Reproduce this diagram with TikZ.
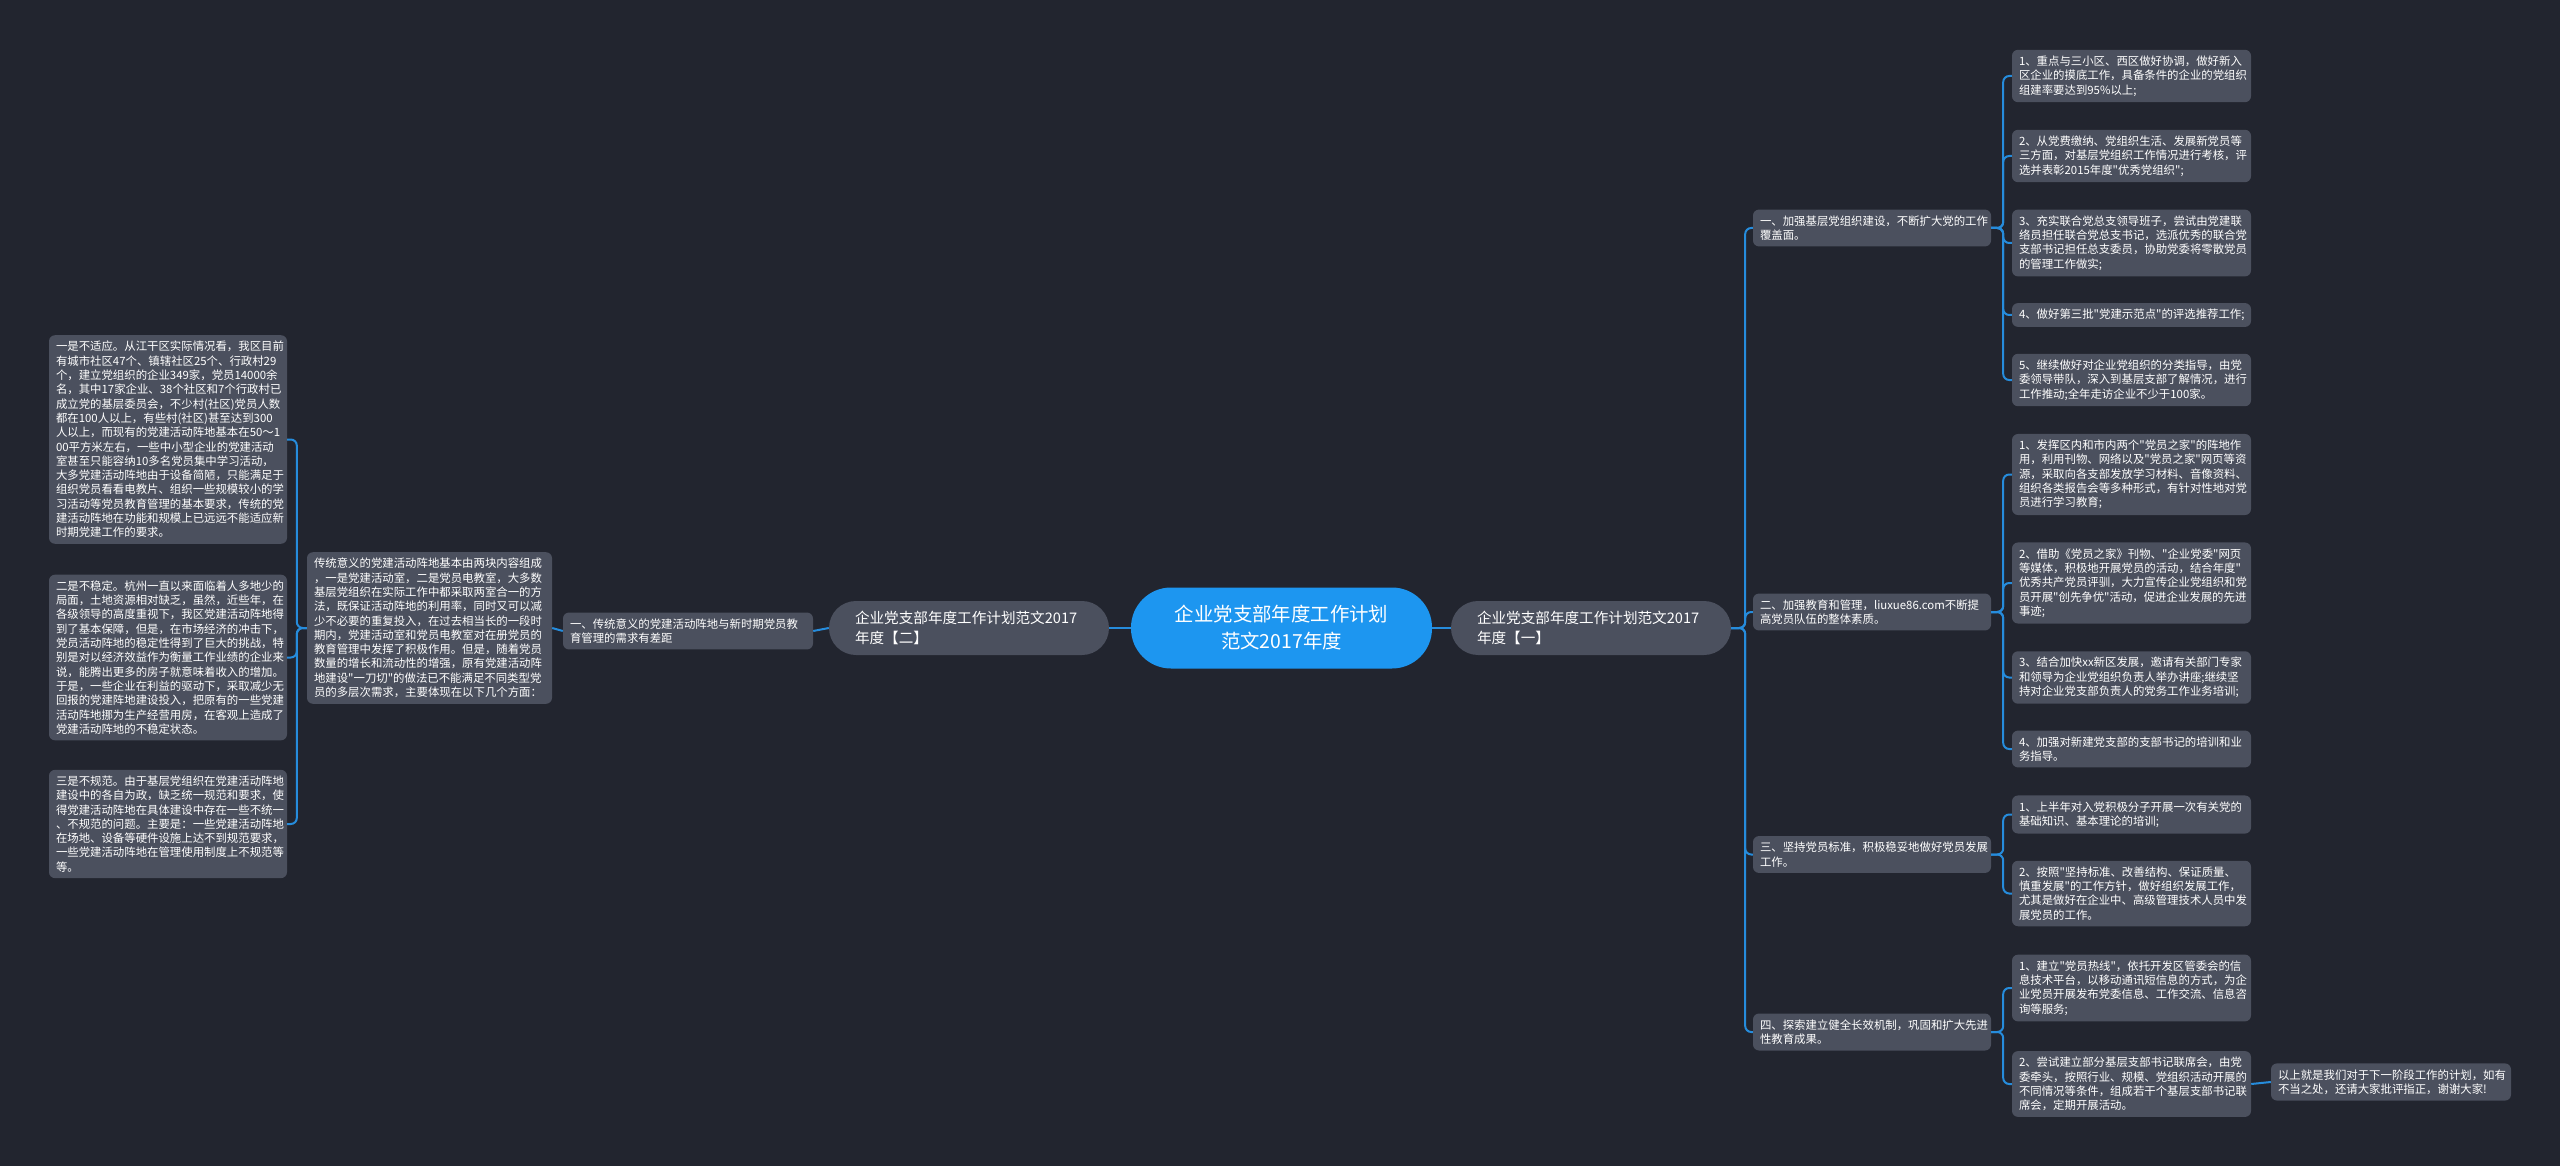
\documentclass[tikz,border=0pt]{standalone}
\usepackage{fontspec}
\setmainfont{Noto Sans CJK SC}[Ligatures=TeXOff]
\definecolor{bgc}{RGB}{34,37,47}
\definecolor{boxc}{RGB}{75,80,94}
\definecolor{rootc}{RGB}{29,150,240}
\definecolor{linec}{RGB}{38,140,220}
\begin{document}
\begin{tikzpicture}[x=1pt,y=-1pt,
  box/.style={fill=boxc, rounded corners=6pt, text=white, align=left,
    font=\fontsize{11.4}{14.3}\selectfont, inner xsep=7pt, inner ysep=6pt},
  mainbox/.style={fill=boxc, rounded corners=27pt, text=white, align=left,
    font=\fontsize{14.6}{19.5}\selectfont, inner xsep=26pt, inner ysep=8pt,
    text width=228pt, minimum height=54pt},
  rootbox/.style={fill=rootc, rounded corners=40pt, text=white, align=center,
    font=\fontsize{19.4}{27}\selectfont, minimum width=301pt, minimum height=81pt},
  conn/.style={draw=linec, line width=2pt, rounded corners=6pt}
]
\fill[bgc] (0,0) rectangle (2560,1166);
\useasboundingbox (0,0) rectangle (2560,1166);

% centre
\node[rootbox] (c) at (1281.5,628) {企业党支部年度工作计划\\范文2017年度};
\node[mainbox] (m1) at (1591,628) {企业党支部年度工作计划范文2017\\年度【一】};
\node[mainbox] (m2) at (969,628) {企业党支部年度工作计划范文2017\\年度【二】};

% left side
\node[box, text width=236pt] (b1) at (688,631) {一、传统意义的党建活动阵地与新时期党员教\\育管理的需求有差距};
\node[box, text width=231pt] (b2) at (429.5,628) {传统意义的党建活动阵地基本由两块内容组成\\，一是党建活动室，二是党员电教室，大多数\\基层党组织在实际工作中都采取两室合一的方\\法，既保证活动阵地的利用率，同时又可以减\\少不必要的重复投入，在过去相当长的一段时\\期内，党建活动室和党员电教室对在册党员的\\教育管理中发挥了积极作用。但是，随着党员\\数量的增长和流动性的增强，原有党建活动阵\\地建设"一刀切"的做法已不能满足不同类型党\\员的多层次需求，主要体现在以下几个方面：};
\node[box, text width=224pt] (bl1) at (168,439.5) {一是不适应。从江干区实际情况看，我区目前\\有城市社区47个、镇辖社区25个、行政村29\\个，建立党组织的企业349家，党员14000余\\名，其中17家企业、38个社区和7个行政村已\\成立党的基层委员会，不少村(社区)党员人数\\都在100人以上，有些村(社区)甚至达到300\\人以上，而现有的党建活动阵地基本在50～1\\00平方米左右，一些中小型企业的党建活动\\室甚至只能容纳10多名党员集中学习活动，\\大多党建活动阵地由于设备简陋，只能满足于\\组织党员看看电教片、组织一些规模较小的学\\习活动等党员教育管理的基本要求，传统的党\\建活动阵地在功能和规模上已远远不能适应新\\时期党建工作的要求。};
\node[box, text width=224pt] (bl2) at (168,657.5) {二是不稳定。杭州一直以来面临着人多地少的\\局面，土地资源相对缺乏，虽然，近些年，在\\各级领导的高度重视下，我区党建活动阵地得\\到了基本保障，但是，在市场经济的冲击下，\\党员活动阵地的稳定性得到了巨大的挑战，特\\别是对以经济效益作为衡量工作业绩的企业来\\说，能腾出更多的房子就意味着收入的增加。\\于是，一些企业在利益的驱动下，采取减少无\\回报的党建阵地建设投入，把原有的一些党建\\活动阵地挪为生产经营用房，在客观上造成了\\党建活动阵地的不稳定状态。};
\node[box, text width=224pt] (bl3) at (168,824) {三是不规范。由于基层党组织在党建活动阵地\\建设中的各自为政，缺乏统一规范和要求，使\\得党建活动阵地在具体建设中存在一些不统一\\、不规范的问题。主要是：一些党建活动阵地\\在场地、设备等硬件设施上达不到规范要求，\\一些党建活动阵地在管理使用制度上不规范等\\等。};

% right side level 2
\node[box, text width=224pt] (a1) at (1872,228) {一、加强基层党组织建设，不断扩大党的工作\\覆盖面。};
\node[box, text width=224pt] (a2) at (1872,612) {二、加强教育和管理，liuxue86.com不断提\\高党员队伍的整体素质。};
\node[box, text width=224pt] (a3) at (1872,854.5) {三、坚持党员标准，积极稳妥地做好党员发展\\工作。};
\node[box, text width=224pt] (a4) at (1872,1032) {四、探索建立健全长效机制，巩固和扩大先进\\性教育成果。};

% right leaves
\node[box, text width=225pt] (a11) at (2131.5,76) {1、重点与三小区、西区做好协调，做好新入\\区企业的摸底工作，具备条件的企业的党组织\\组建率要达到95\%以上;};
\node[box, text width=225pt] (a12) at (2131.5,156) {2、从党费缴纳、党组织生活、发展新党员等\\三方面，对基层党组织工作情况进行考核，评\\选并表彰2015年度"优秀党组织";};
\node[box, text width=225pt] (a13) at (2131.5,243) {3、充实联合党总支领导班子，尝试由党建联\\络员担任联合党总支书记，选派优秀的联合党\\支部书记担任总支委员，协助党委将零散党员\\的管理工作做实;};
\node[box, text width=225pt] (a14) at (2131.5,315) {4、做好第三批"党建示范点"的评选推荐工作;};
\node[box, text width=225pt] (a15) at (2131.5,380) {5、继续做好对企业党组织的分类指导，由党\\委领导带队，深入到基层支部了解情况，进行\\工作推动;全年走访企业不少于100家。};
\node[box, text width=225pt] (a21) at (2131.5,474.5) {1、发挥区内和市内两个"党员之家"的阵地作\\用，利用刊物、网络以及"党员之家"网页等资\\源，采取向各支部发放学习材料、音像资料、\\组织各类报告会等多种形式，有针对性地对党\\员进行学习教育;};
\node[box, text width=225pt] (a22) at (2131.5,583) {2、借助《党员之家》刊物、"企业党委"网页\\等媒体，积极地开展党员的活动，结合年度"\\优秀共产党员评驯，大力宣传企业党组织和党\\员开展"创先争优"活动，促进企业发展的先进\\事迹;};
\node[box, text width=225pt] (a23) at (2131.5,677.5) {3、结合加快xx新区发展，邀请有关部门专家\\和领导为企业党组织负责人举办讲座;继续坚\\持对企业党支部负责人的党务工作业务培训;};
\node[box, text width=225pt] (a24) at (2131.5,749) {4、加强对新建党支部的支部书记的培训和业\\务指导。};
\node[box, text width=225pt] (a31) at (2131.5,814.5) {1、上半年对入党积极分子开展一次有关党的\\基础知识、基本理论的培训;};
\node[box, text width=225pt] (a32) at (2131.5,893.5) {2、按照"坚持标准、改善结构、保证质量、\\慎重发展"的工作方针，做好组织发展工作，\\尤其是做好在企业中、高级管理技术人员中发\\展党员的工作。};
\node[box, text width=225pt] (a41) at (2131.5,988) {1、建立"党员热线"，依托开发区管委会的信\\息技术平台，以移动通讯短信息的方式，为企\\业党员开展发布党委信息、工作交流、信息咨\\询等服务;};
\node[box, text width=225pt] (a42) at (2131.5,1084) {2、尝试建立部分基层支部书记联席会，由党\\委牵头，按照行业、规模、党组织活动开展的\\不同情况等条件，组成若干个基层支部书记联\\席会，定期开展活动。};
\node[box, text width=226pt] (f) at (2391,1082) {以上就是我们对于下一阶段工作的计划，如有\\不当之处，还请大家批评指正，谢谢大家!};

% connectors
\draw[conn] (c.east) -- (m1.west);
\draw[conn] (c.west) -- (m2.east);
\draw[conn] (m2.west) -- (b1.east);
\draw[conn] (b1.west) -- (b2.east);
\foreach \t in {bl1,bl2,bl3}{\draw[conn] (b2.west) -- ++(-10,0) |- (\t.east);}
\foreach \t in {a1,a2,a3,a4}{\draw[conn] (m1.east) -- ++(14,0) |- (\t.west);}
\foreach \t in {a11,a12,a13,a14,a15}{\draw[conn] (a1.east) -- ++(12,0) |- (\t.west);}
\foreach \t in {a21,a22,a23,a24}{\draw[conn] (a2.east) -- ++(12,0) |- (\t.west);}
\foreach \t in {a31,a32}{\draw[conn] (a3.east) -- ++(12,0) |- (\t.west);}
\foreach \t in {a41,a42}{\draw[conn] (a4.east) -- ++(12,0) |- (\t.west);}
\draw[conn] (a42.east) -- (f.west);
\end{tikzpicture}
\end{document}
